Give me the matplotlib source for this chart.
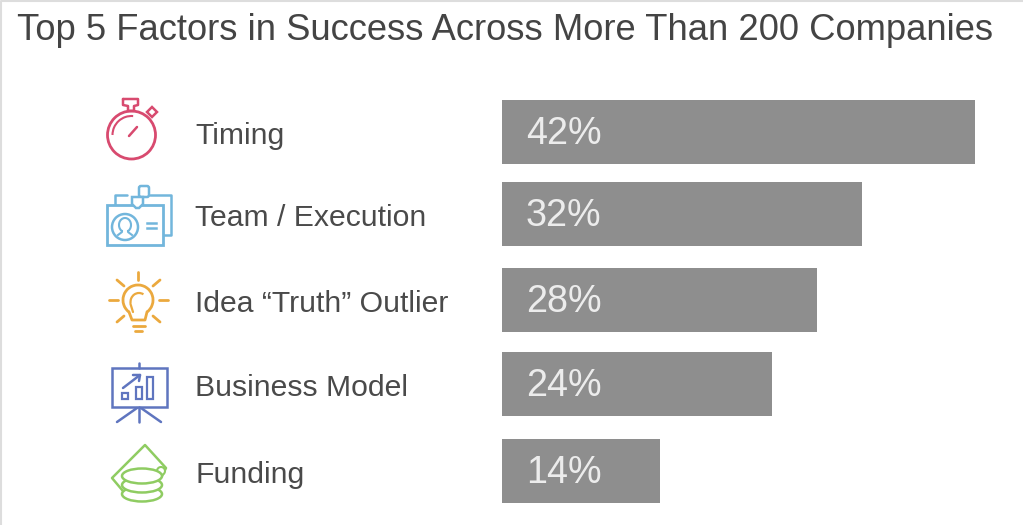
import numpy as np
import matplotlib
matplotlib.use('Agg')
import matplotlib.pyplot as plt
from matplotlib.patches import Circle, Ellipse, Rectangle, Polygon, Arc, FancyBboxPatch

title = 'Top 5 Factors in Success Across More Than 200 Companies'
factors = ['Timing', 'Team / Execution', 'Idea \u201cTruth\u201d Outlier', 'Business Model', 'Funding']
shares = [42, 32, 28, 24, 14]

W, H = 1023, 525
plt.rcParams['font.family'] = ['Liberation Sans', 'DejaVu Sans']

fig = plt.figure(figsize=(W / 100, H / 100), dpi=100, facecolor='white')

# background axes in pixel coords, used for labels and icons
bg = fig.add_axes([0, 0, 1, 1])
bg.set_xlim(0, W)
bg.set_ylim(H, 0)
bg.axis('off')

# faint frame along the top and left edge
bg.plot([0.5, 0.5, W], [H, 0.5, 0.5], color='#dddddd', lw=1.5)

# bars: one percent is 11.26 px, starts at x=502
ax = fig.add_axes([502 / W, 0, 42 * 11.26 / W, 1])
ax.patch.set_alpha(0)
ax.set_xlim(0, 42)
ax.set_ylim(H, 0)
ax.axis('off')

bar_y = [132, 214, 300, 384, 471]
ax.barh(bar_y, shares, height=64, color='#8e8e8e')
for y, s in zip(bar_y, shares):
    ax.text(2.1, y + 2, '%d%%' % s, color='#ececec', fontsize=27.2, va='center')

bg.text(17, 30, title, fontsize=26.2, color='#444444', va='center')
for y, name in zip(bar_y, factors):
    bg.text(195, y + 4, name, fontsize=21.7, color='#4a4a4a', va='center')


def line(pts, c, lw=1.8):
    xs, ys = zip(*pts)
    bg.plot(xs, ys, color=c, lw=lw, solid_capstyle='round', solid_joinstyle='round')


# stopwatch
RED = '#d84a6f'
bg.add_patch(Circle((131.5, 135), 24, fill=False, ec=RED, lw=2))
bg.add_patch(Arc((131.5, 135), 38, 38, theta1=180, theta2=275, ec=RED, lw=1.5))
line([(129, 136), (137, 127)], RED)
line([(123, 99), (138, 99), (138, 105), (134, 106), (134, 111), (128, 111), (128, 106), (123, 105), (123, 99)], RED)
bg.add_patch(Polygon([(152, 107), (157, 112), (152, 117), (147, 112)], fill=False, ec=RED, lw=1.8))

# id badge
BLUE = '#72b6dc'
line([(115, 205), (115, 195), (127, 195)], BLUE)
line([(150, 195), (171, 195), (171, 235), (163, 235)], BLUE)
bg.add_patch(FancyBboxPatch((139, 186), 10, 11, boxstyle='round,pad=0,rounding_size=2', fill=False, ec=BLUE, lw=1.8))
bg.add_patch(Rectangle((107, 205), 56, 40, fc='white', ec=BLUE, lw=2, zorder=3))
bg.add_patch(Polygon([(132, 197), (143, 197), (143, 204), (139, 208), (136, 208), (132, 204)], fc='white', ec=BLUE, lw=1.8, zorder=4))
bg.add_patch(Circle((125, 227), 13, fill=False, ec=BLUE, lw=1.8, zorder=4))
bg.add_patch(Arc((125, 225), 12, 14, theta1=120, theta2=60, ec=BLUE, lw=1.5, zorder=4))
bg.plot([118, 122, 122], [235, 232, 231], color=BLUE, lw=1.5, zorder=4)
bg.plot([132, 128, 128], [235, 232, 231], color=BLUE, lw=1.5, zorder=4)
bg.plot([147, 156], [223, 223], color=BLUE, lw=1.8, zorder=4)
bg.plot([147, 156], [228, 228], color=BLUE, lw=1.8, zorder=4)

# light bulb
ORANGE = '#eba93e'
bg.add_patch(Arc((138, 300), 30, 30, theta1=125, theta2=55, ec=ORANGE, lw=2))
line([(129, 312), (132, 320), (145, 320), (147, 312)], ORANGE, 2)
bg.add_patch(Arc((139, 302), 17, 18, theta1=170, theta2=300, ec=ORANGE, lw=1.6))
line([(130.5, 304), (133, 312)], ORANGE, 1.6)
line([(133, 326), (145, 326)], ORANGE, 2)
line([(135, 331), (142, 331)], ORANGE, 2)
for ray in [[(138, 272), (138, 280)], [(109, 300), (118, 300)], [(159, 300), (168, 300)],
            [(117, 280), (124, 286)], [(160, 280), (153, 286)], [(117, 322), (124, 316)], [(160, 322), (153, 316)]]:
    line(ray, ORANGE, 2)

# presentation board
INDIGO = '#5f75bf'
bg.add_patch(Rectangle((112, 368), 55, 39, fill=False, ec=INDIGO, lw=1.8))
line([(139, 363), (139, 368)], INDIGO)
line([(139, 407), (139, 422)], INDIGO)
line([(137, 408), (117, 422)], INDIGO)
line([(141, 408), (161, 422)], INDIGO)
bg.add_patch(Rectangle((122, 393), 6, 6, fill=False, ec=INDIGO, lw=1.6))
bg.add_patch(Rectangle((136, 387), 6, 12, fill=False, ec=INDIGO, lw=1.6))
bg.add_patch(Rectangle((147, 377), 6, 22, fill=False, ec=INDIGO, lw=1.6))
line([(123, 388), (140, 375)], INDIGO)
line([(133, 375), (140, 375), (139, 381)], INDIGO)

# money and coins
GREEN = '#8fcc62'
bg.add_patch(Polygon([(145, 445), (166, 468), (162, 476), (128, 497), (112, 478)], fill=False, ec=GREEN, lw=1.8, joinstyle='round'))
bg.add_patch(Circle((161, 471), 4, fc='white', ec=GREEN, lw=1.5, zorder=2))
for cy in [494, 485, 476]:
    bg.add_patch(Ellipse((142, cy), 40, 15, fc='white', ec=GREEN, lw=1.8, zorder=3))

fig.savefig('out.png', dpi=100)
